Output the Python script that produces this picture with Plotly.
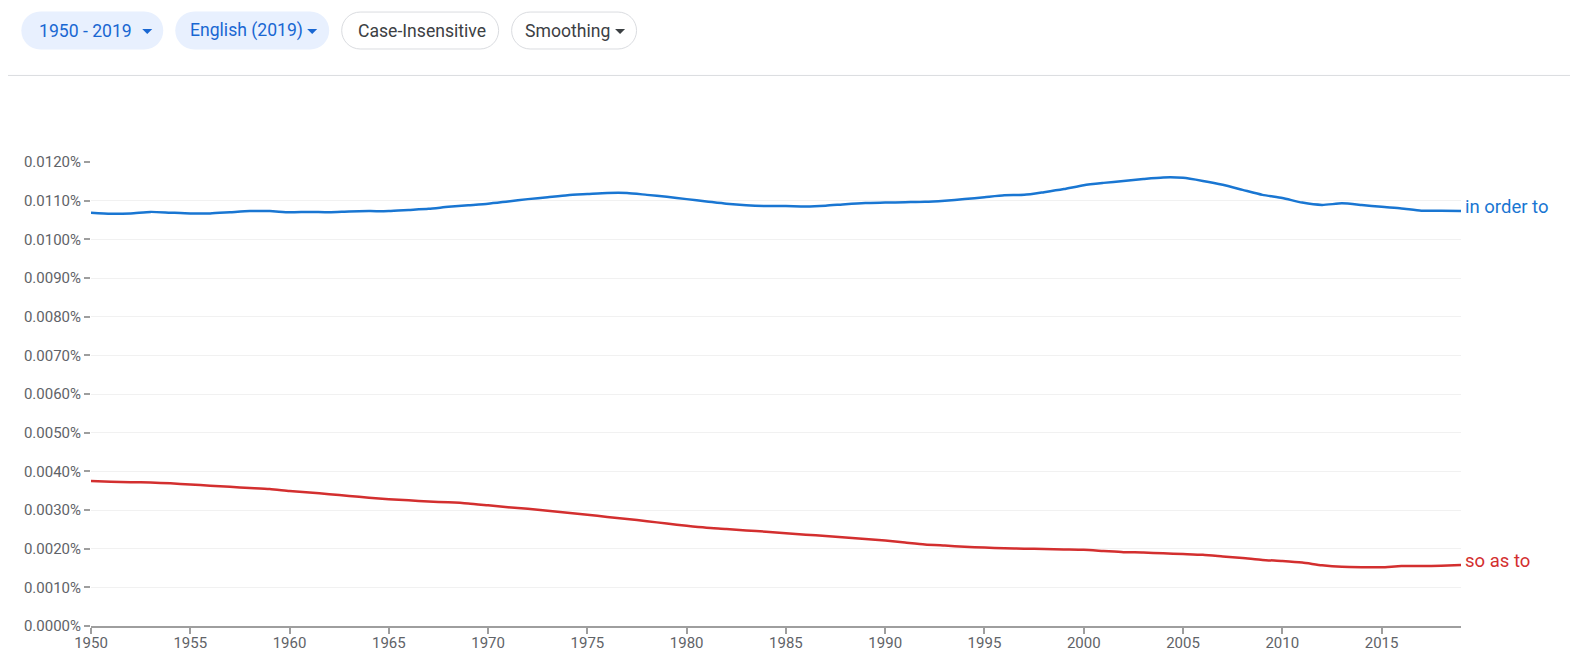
import plotly.graph_objects as go

# ---------------- data ----------------
years = list(range(1950, 2020))

in_order_to = [
    0.01069, 0.01066, 0.01067, 0.01071, 0.01069, 0.01067, 0.01067, 0.01070, 0.01073, 0.01073,
    0.01070, 0.01071, 0.01070, 0.01072, 0.01073, 0.01073, 0.01076, 0.01079, 0.01084, 0.01088,
    0.01092, 0.01098, 0.01104, 0.01109, 0.01114, 0.01117, 0.01120, 0.01120, 0.01115, 0.01110,
    0.01104, 0.01098, 0.01092, 0.01088, 0.01086, 0.01086, 0.01085, 0.01087, 0.01091, 0.01094,
    0.01095, 0.01096, 0.01097, 0.01100, 0.01104, 0.01109, 0.01114, 0.01115, 0.01122, 0.01130,
    0.01140, 0.01146, 0.01151, 0.01156, 0.01160, 0.01159, 0.01151, 0.01141, 0.01128, 0.01115,
    0.01107, 0.01095, 0.01089, 0.01093, 0.01089, 0.01084, 0.01080, 0.01074, 0.01074, 0.01073,
]

so_as_to = [
    0.00375, 0.00373, 0.00372, 0.00371, 0.00369, 0.00366, 0.00363, 0.00360, 0.00357, 0.00354,
    0.00349, 0.00345, 0.00341, 0.00336, 0.00332, 0.00328, 0.00325, 0.00322, 0.00320, 0.00317,
    0.00312, 0.00307, 0.00303, 0.00298, 0.00293, 0.00288, 0.00282, 0.00277, 0.00271, 0.00265,
    0.00259, 0.00254, 0.00251, 0.00247, 0.00244, 0.00240, 0.00236, 0.00233, 0.00229, 0.00225,
    0.00221, 0.00216, 0.00211, 0.00208, 0.00205, 0.00203, 0.00201, 0.00200, 0.00199, 0.00198,
    0.00197, 0.00194, 0.00191, 0.00190, 0.00188, 0.00186, 0.00184, 0.00180, 0.00176, 0.00171,
    0.00168, 0.00164, 0.00157, 0.00153, 0.00152, 0.00152, 0.00155, 0.00155, 0.00156, 0.00158,
]

series_names = ["in order to", "so as to"]
series_colors = ["#1976d2", "#d32f2f"]

y_ticks = [0.0000, 0.0010, 0.0020, 0.0030, 0.0040, 0.0050, 0.0060,
           0.0070, 0.0080, 0.0090, 0.0100, 0.0110, 0.0120]
x_ticks = list(range(1950, 2020, 5))

chip_labels = ["1950 - 2019", "English (2019)", "Case-Insensitive", "Smoothing"]

# ---------------- layout geometry (page pixels) ----------------
PAGE_W, PAGE_H = 1578, 660
OFF = 8                      # default body margin of the html page
W, H = PAGE_W - 2 * OFF, PAGE_H - 2 * OFF
PLOT_X0, PLOT_X1 = 90.7, 1461.3   # page coords of plot area
PLOT_Y0, PLOT_Y1 = 161.7, 626.5
L = PLOT_X0 - OFF
R = W - (PLOT_X1 - OFF)
T = PLOT_Y0 - OFF
B = H - (PLOT_Y1 - OFF)
PW = PLOT_X1 - PLOT_X0
PH = PLOT_Y1 - PLOT_Y0


def px(x):
    return (x - PLOT_X0) / PW


def py(y):
    return (PLOT_Y1 - y) / PH


def pill_path(x0, y0, x1, y1):
    r = (y1 - y0) / 2.0
    k = 0.5523 * r
    ym = (y0 + y1) / 2.0
    pts = [
        ("M", [(x0 + r, y0)]),
        ("L", [(x1 - r, y0)]),
        ("C", [(x1 - r + k, y0), (x1, ym - k), (x1, ym)]),
        ("C", [(x1, ym + k), (x1 - r + k, y1), (x1 - r, y1)]),
        ("L", [(x0 + r, y1)]),
        ("C", [(x0 + r - k, y1), (x0, ym + k), (x0, ym)]),
        ("C", [(x0, ym - k), (x0 + r - k, y0), (x0 + r, y0)]),
    ]
    s = ""
    for cmd, ps in pts:
        s += cmd + " " + " ".join(f"{px(a):.6f},{py(b):.6f}" for a, b in ps) + " "
    return s + "Z"


def tri_path(cx, cy, w=10, h=5):
    a = (cx - w / 2, cy - h / 2)
    b = (cx + w / 2, cy - h / 2)
    c = (cx, cy + h / 2)
    return "M " + " L ".join(f"{px(p[0]):.6f},{py(p[1]):.6f}" for p in (a, b, c)) + " Z"


fig = go.Figure()

for name, vals, col in zip(series_names, [in_order_to, so_as_to], series_colors):
    fig.add_trace(go.Scatter(
        x=years, y=vals, mode="lines", name=name,
        line=dict(color=col, width=2.5, shape="spline", smoothing=0.6),
        hoverinfo="skip",
    ))
    fig.add_annotation(
        x=years[-1], y=vals[-1], xref="x", yref="y", text=name,
        showarrow=False, xanchor="left", yanchor="middle", xshift=2, yshift=4,
        font=dict(family="Roboto", size=18.5, color=col),
    )

shapes = []
annotations = []

# top separator
shapes.append(dict(type="line", xref="paper", yref="paper",
                   x0=px(0), x1=px(PAGE_W), y0=py(75), y1=py(75),
                   line=dict(color="#dadce0", width=1)))

# chips
chip_boxes = [(21, 163), (175, 329), (341, 499), (511, 637)]
chip_filled = [True, True, False, False]
chip_text_x = [37, 188, 356, 523]
chip_arrow_x = [147, 312, None, 620]
cy0, cy1 = 11, 49
for lab, (x0, x1), filled, tx, ax in zip(chip_labels, chip_boxes, chip_filled, chip_text_x, chip_arrow_x):
    if filled:
        shapes.append(dict(type="path", xref="paper", yref="paper",
                           path=pill_path(x0, cy0, x1, cy1),
                           fillcolor="#e8f0fe", line=dict(width=0)))
        tcol = "#1967d2"
        acol = "#1967d2"
    else:
        shapes.append(dict(type="path", xref="paper", yref="paper",
                           path=pill_path(x0 + 0.5, cy0 + 0.5, x1 - 0.5, cy1 - 0.5),
                           fillcolor="white", line=dict(color="#dadce0", width=1)))
        tcol = "#3c4043"
        acol = "#3c4043"
    annotations.append(dict(x=px(tx), y=py(30), xref="paper", yref="paper",
                            text=lab, showarrow=False, xanchor="left", yanchor="middle",
                            font=dict(family="Roboto", size=17.6, color=tcol)))
    if ax is not None:
        shapes.append(dict(type="path", xref="paper", yref="paper",
                           path=tri_path(ax, 31), fillcolor=acol, line=dict(width=0)))

fig.update_layout(
    width=W, height=H,
    margin=dict(l=L, r=R, t=T, b=B, pad=0, autoexpand=False),
    paper_bgcolor="white", plot_bgcolor="white",
    showlegend=False,
    shapes=shapes,
    font=dict(family="Roboto", color="#5f6368"),
    xaxis=dict(
        range=[1950, 2019], tickvals=x_ticks, ticktext=[str(v) for v in x_ticks],
        showgrid=False, zeroline=False, showline=True, linecolor="#9e9e9e", linewidth=1.5,
        ticks="outside", ticklen=6, tickwidth=1.5, tickcolor="#9e9e9e",
        ticklabelstandoff=-4,
        tickfont=dict(family="Roboto", size=15, color="#5f6368"),
        fixedrange=True, automargin=False,
    ),
    yaxis=dict(
        range=[0, 0.0120], tickvals=y_ticks,
        ticktext=[f"{v:.4f}%" for v in y_ticks],
        showgrid=True, gridcolor="#f1f1f1", gridwidth=1, zeroline=False, showline=False,
        ticks="outside", ticklen=6, tickwidth=1.5, tickcolor="#9e9e9e",
        tickfont=dict(family="Roboto", size=15, color="#5f6368"),
        fixedrange=True, automargin=False,
    ),
)
for a in annotations:
    fig.add_annotation(**a)

fig.write_html("out.html", config={"displayModeBar": False})
